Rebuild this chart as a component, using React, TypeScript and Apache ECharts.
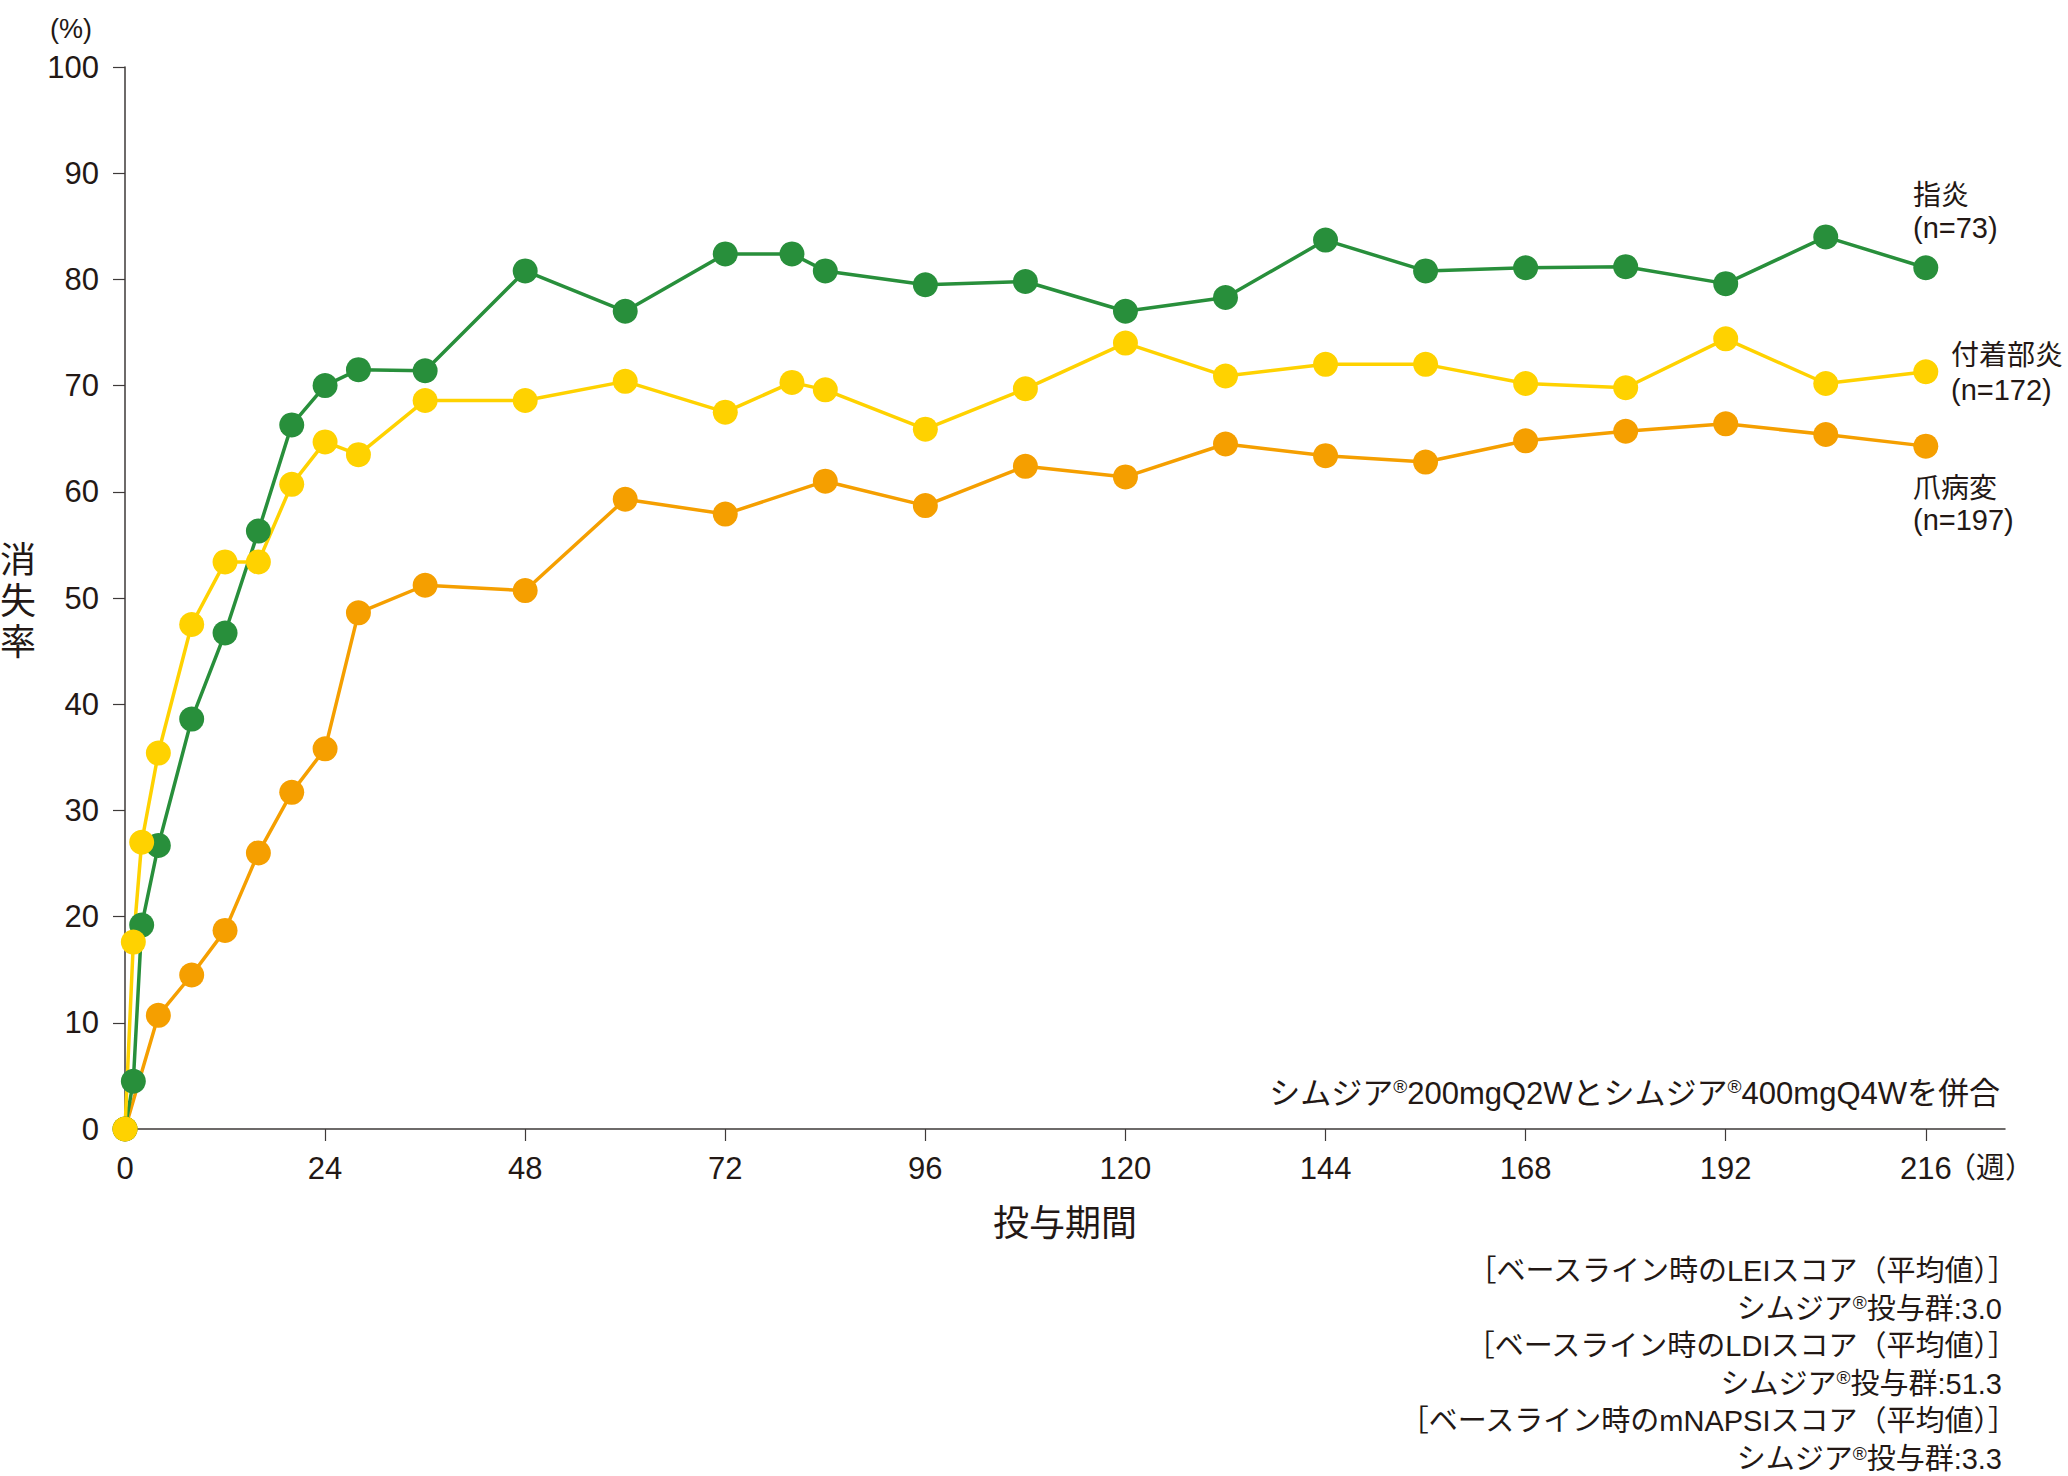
import React, { useEffect, useRef } from 'react';
import * as echarts from 'echarts';

// ---- data ----
const weeks = [0, 1, 2, 4, 8, 12, 16, 20, 24, 28, 36, 48, 60, 72, 80, 84, 96, 108, 120, 132, 144, 156, 168, 180, 192, 204, 216];
const dactylitis = [0, 4.5, 19.2, 26.7, 38.6, 46.7, 56.3, 66.3, 70.0, 71.5, 71.4, 80.8, 77.0, 82.4, 82.4, 80.8, 79.5, 79.8, 77.0, 78.3, 83.7, 80.8, 81.1, 81.2, 79.6, 84.0, 81.1];
const enthesitis = [0, 17.6, 27.0, 35.4, 47.5, 53.4, 53.4, 60.7, 64.7, 63.5, 68.6, 68.6, 70.4, 67.5, 70.3, 69.6, 65.9, 69.7, 74.0, 70.9, 72.0, 72.0, 70.2, 69.8, 74.4, 70.2, 71.3];
const nailDisease = [0, null, null, 10.7, 14.5, 18.7, 26.0, 31.7, 35.8, 48.6, 51.2, 50.7, 59.3, 57.9, null, 61.0, 58.7, 62.4, 61.4, 64.5, 63.4, 62.8, 64.8, 65.7, 66.4, 65.4, 64.3];

const xTickValues = [0, 24, 48, 72, 96, 120, 144, 168, 192, 216];
const seriesNames = ['指炎', '付着部炎', '爪病変'];
const seriesCounts = ['(n=73)', '(n=172)', '(n=197)'];
const xUnit = '（週）';
const yUnit = '(%)';
const yName = '消失率';
const xName = '投与期間';
const caption = 'シムジア{r|®}200mgQ2Wとシムジア{r|®}400mgQ4Wを併合';
const noteLines = [
  '［ベースライン時のLEIスコア（平均値）］',
  'シムジア{r|®}投与群:3.0',
  '［ベースライン時のLDIスコア（平均値）］',
  'シムジア{r|®}投与群:51.3',
  '［ベースライン時のmNAPSIスコア（平均値）］',
  'シムジア{r|®}投与群:3.3',
];

const FONT = '"Liberation Sans", "Noto Sans CJK JP", sans-serif';
const TXT = '#231815';
const AXIS = '#3e3a39';
const GREEN = '#288f3b';
const YELLOW = '#ffd200';
const ORANGE = '#f59f00';

const pairs = (vals: (number | null)[]) => weeks.map((w, i) => [w, vals[i]]);

const rich = (size: number) => ({
  r: { fontSize: 19, fontFamily: FONT, fill: TXT, color: TXT, verticalAlign: 'top', lineHeight: size + 2 },
});

function txt(text: string, x: number, y: number, size: number, align: string, valign: string, extra: any = {}) {
  return {
    type: 'text',
    x,
    y,
    silent: true,
    style: {
      text,
      fontSize: size,
      fontFamily: FONT,
      fill: TXT,
      align,
      verticalAlign: valign,
      textAlign: align,
      textVerticalAlign: valign,
      ...extra,
    },
  };
}

export default function App() {
  const ref = useRef<HTMLDivElement>(null);
  useEffect(() => {
    document.body.style.margin = '0';
    const chart = echarts.init(ref.current!, null, { renderer: 'svg' });
    const line = (name: string, vals: (number | null)[], color: string) => ({
      type: 'line',
      name,
      data: pairs(vals),
      connectNulls: true,
      symbol: 'circle',
      symbolSize: 25,
      lineStyle: { color, width: 3.5 },
      itemStyle: { color, borderWidth: 0 },
      emphasis: { disabled: true },
      silent: true,
    });
    const labelPos = [
      [1913, 195, 228],
      [1951, 355, 390],
      [1913, 488, 520],
    ];
    const graphics: any[] = [
      txt(yUnit, 71, 29, 27, 'center', 'middle'),
      ...yName.split('').map((ch, i) => txt(ch, 18, 560 + i * 41, 36, 'center', 'middle')),
      txt(xUnit, 1947, 1168, 29, 'left', 'middle'),
      ...seriesNames.flatMap((n, i) => [
        txt(n, labelPos[i][0], labelPos[i][1], 28, 'left', 'middle'),
        txt(seriesCounts[i], labelPos[i][0], labelPos[i][2], 29, 'left', 'middle'),
      ]),
      txt(caption, 2000, 1093, 31, 'right', 'middle', { rich: rich(31) }),
      ...noteLines.map((l, i) =>
        txt(l, l.endsWith('］') ? 2017 : 2002, 1271 + i * 37.6, 29, 'right', 'middle', { rich: rich(29) })
      ),
    ];
    chart.setOption({
      animation: false,
      backgroundColor: '#ffffff',
      textStyle: { fontFamily: FONT, color: TXT },
      grid: { left: 125, right: 63, top: 67, bottom: 347, containLabel: false, outerBoundsMode: 'none' },
      xAxis: {
        type: 'value',
        min: 0,
        max: 225.5,
        name: xName,
        nameLocation: 'middle',
        nameGap: 76,
        nameTextStyle: { fontSize: 36, color: TXT, fontFamily: FONT },
        axisLine: { show: true, onZero: false, lineStyle: { color: AXIS, width: 1.5 } },
        axisTick: { show: true, length: 12, inside: false, customValues: xTickValues, lineStyle: { color: AXIS, width: 1.2 } },
        axisLabel: { fontSize: 31, color: TXT, margin: 24, customValues: xTickValues, fontFamily: FONT },
        splitLine: { show: false },
      },
      yAxis: {
        type: 'value',
        min: 0,
        max: 100,
        interval: 10,
        axisLine: { show: true, lineStyle: { color: AXIS, width: 1.5 } },
        axisTick: { show: true, length: 12, inside: false, lineStyle: { color: AXIS, width: 1.2 } },
        axisLabel: { fontSize: 31, color: TXT, margin: 26, fontFamily: FONT },
        splitLine: { show: false },
      },
      series: [
        line(seriesNames[2], nailDisease, ORANGE),
        line(seriesNames[0], dactylitis, GREEN),
        line(seriesNames[1], enthesitis, YELLOW),
      ],
      graphic: graphics,
    });
    return () => chart.dispose();
  }, []);
  return <div ref={ref} style={{ width: 2068, height: 1476 }} />;
}
